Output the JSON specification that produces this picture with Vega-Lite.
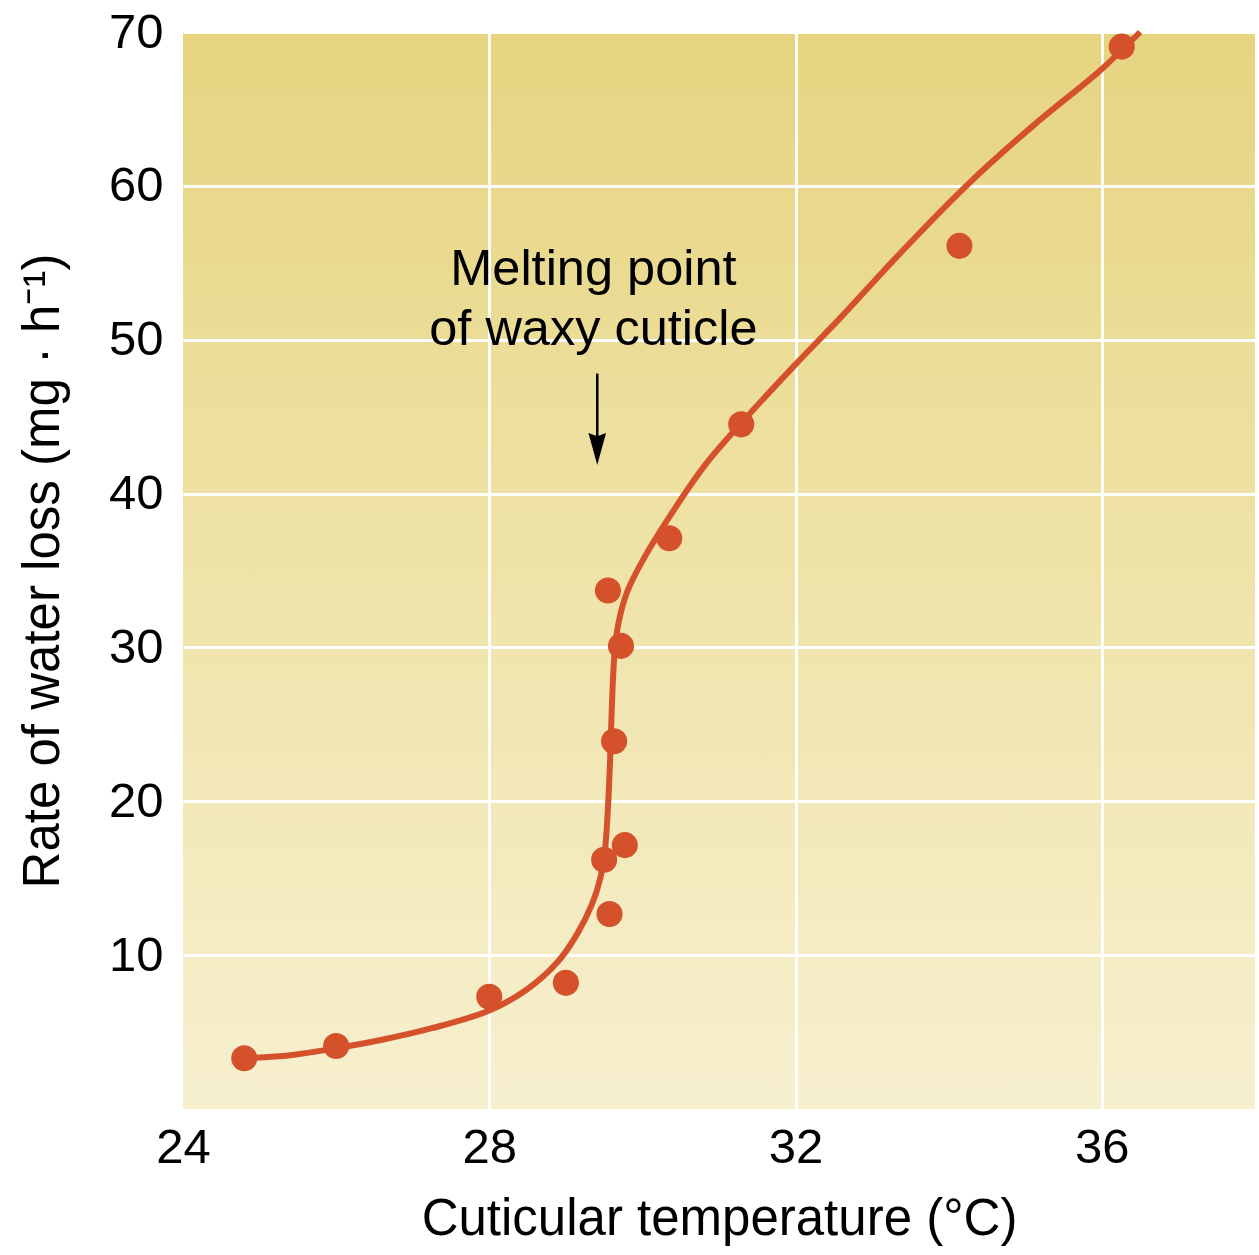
{
  "$schema": "https://vega.github.io/schema/vega-lite/v6.json",
  "width": 1072,
  "height": 1077,
  "autosize": {"type": "none"},
  "padding": {"left": 183, "top": 32, "right": 4, "bottom": 146},
  "background": "white",
  "config": {
    "view": {
      "stroke": null,
      "fill": {"gradient": "linear", "x1": 0, "y1": 0, "x2": 0, "y2": 1,
        "stops": [{"offset": 0, "color": "#e6d480"}, {"offset": 0.5, "color": "#efe3a8"}, {"offset": 1, "color": "#f7f0cf"}]}
    },
    "font": "Liberation Sans",
    "axis": {
      "domain": false,
      "ticks": false,
      "tickSize": 0,
      "grid": true,
      "gridColor": "white",
      "gridWidth": 2.8,
      "labelFont": "Liberation Sans",
      "labelFontSize": 49,
      "labelColor": "black",
      "labelFlush": false,
      "labelOverlap": false,
      "format": "d",
      "titleFont": "Liberation Sans",
      "titleFontSize": 51,
      "titleFontWeight": "normal",
      "titleColor": "black"
    }
  },
  "datasets": {
    "curve": [
      {"t": 24.8, "r": 3.3}, {"t": 25.4, "r": 3.5}, {"t": 26.0, "r": 3.95}, {"t": 26.6, "r": 4.5},
      {"t": 27.25, "r": 5.25}, {"t": 28.0, "r": 6.4}, {"t": 28.5, "r": 7.8}, {"t": 28.9, "r": 9.6},
      {"t": 29.15, "r": 11.4}, {"t": 29.34, "r": 13.3}, {"t": 29.45, "r": 15.0}, {"t": 29.51, "r": 16.8},
      {"t": 29.55, "r": 19.6}, {"t": 29.58, "r": 23.0}, {"t": 29.6, "r": 26.0}, {"t": 29.63, "r": 29.2},
      {"t": 29.68, "r": 31.4}, {"t": 29.8, "r": 33.6}, {"t": 30.02, "r": 35.8}, {"t": 30.38, "r": 38.7},
      {"t": 30.81, "r": 41.8}, {"t": 31.33, "r": 44.8}, {"t": 32.0, "r": 48.4}, {"t": 32.6, "r": 51.5},
      {"t": 33.4, "r": 55.8}, {"t": 34.25, "r": 60.1}, {"t": 35.1, "r": 63.9}, {"t": 36.0, "r": 67.6},
      {"t": 36.5, "r": 70.0}
    ],
    "points": [
      {"t": 24.8, "r": 3.3}, {"t": 26.0, "r": 4.1}, {"t": 28.0, "r": 7.3}, {"t": 29.0, "r": 8.2},
      {"t": 29.5, "r": 16.2}, {"t": 29.57, "r": 12.67}, {"t": 29.77, "r": 17.15}, {"t": 29.63, "r": 23.9},
      {"t": 29.72, "r": 30.1}, {"t": 29.55, "r": 33.7}, {"t": 30.35, "r": 37.1}, {"t": 31.29, "r": 44.5},
      {"t": 34.14, "r": 56.1}, {"t": 36.26, "r": 69.05}
    ],
    "notes": [
      {"t": 29.36, "r": 53.54, "label": "Melting point"},
      {"t": 29.36, "r": 49.64, "label": "of waxy cuticle"}
    ],
    "arrow": [
      {"t": 29.41, "r": 47.8, "r2": 43.6, "tip": 42.9}
    ]
  },
  "layer": [
    {
      "data": {"name": "curve"},
      "mark": {"type": "line", "interpolate": "catmull-rom", "color": "#d4512b", "strokeWidth": 6, "clip": false},
      "encoding": {
        "x": {"field": "t", "type": "quantitative",
          "scale": {"domain": [24, 38], "nice": false, "zero": false},
          "axis": {"values": [24, 28, 32, 36], "labelPadding": 14, "titlePadding": 22,
            "gridOpacity": {"condition": {"test": "datum.value == 24", "value": 0}, "value": 1},
            "title": "Cuticular temperature (°C)"}},
        "y": {"field": "r", "type": "quantitative",
          "scale": {"domain": [0, 70], "nice": false, "zero": false},
          "axis": {"values": [10, 20, 30, 40, 50, 60, 70], "labelPadding": 20, "titlePadding": 39,
            "title": "Rate of water loss (mg · h⁻¹)"}}
      }
    },
    {
      "data": {"name": "points"},
      "mark": {"type": "circle", "size": 680, "opacity": 1, "color": "#d4512b"},
      "encoding": {
        "x": {"field": "t", "type": "quantitative"},
        "y": {"field": "r", "type": "quantitative"}
      }
    },
    {
      "data": {"name": "notes"},
      "mark": {"type": "text", "align": "center", "baseline": "alphabetic", "fontSize": 50.5, "font": "Liberation Sans", "color": "black"},
      "encoding": {
        "x": {"field": "t", "type": "quantitative"},
        "y": {"field": "r", "type": "quantitative"},
        "text": {"field": "label"}
      }
    },
    {
      "data": {"name": "arrow"},
      "mark": {"type": "rule", "color": "black", "strokeWidth": 2.5},
      "encoding": {
        "x": {"field": "t", "type": "quantitative"},
        "y": {"field": "r", "type": "quantitative"},
        "y2": {"field": "r2"}
      }
    },
    {
      "data": {"name": "arrow"},
      "mark": {"type": "point", "shape": "M-0.55,-1L0,-0.8L0.55,-1L0,1Z", "size": 1024, "filled": true, "opacity": 1, "color": "black", "strokeWidth": 0},
      "encoding": {
        "x": {"field": "t", "type": "quantitative"},
        "y": {"field": "tip", "type": "quantitative"}
      }
    }
  ]
}
